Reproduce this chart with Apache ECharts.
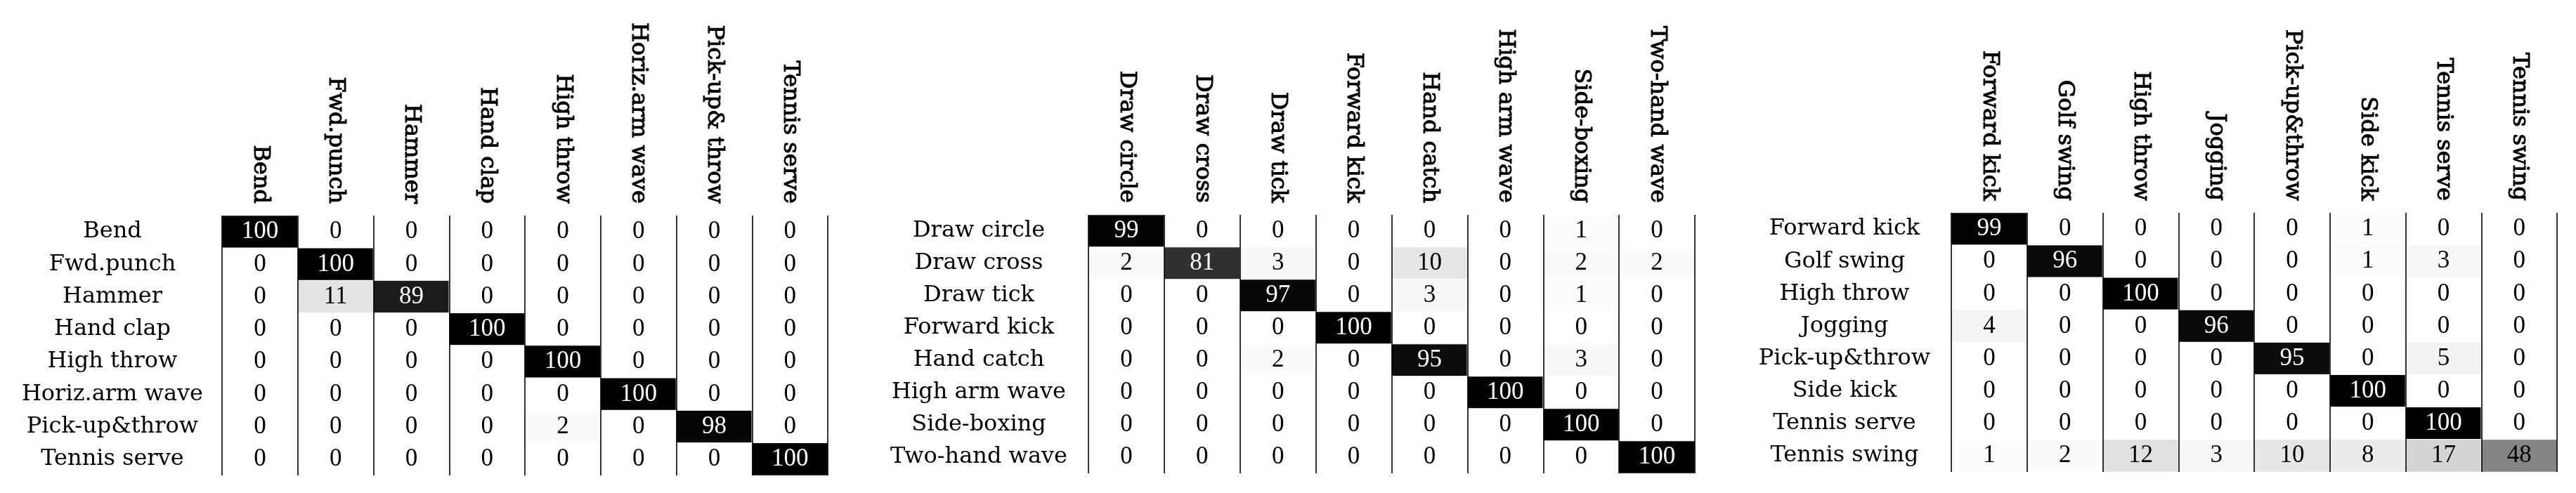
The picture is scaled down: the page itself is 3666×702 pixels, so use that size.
<!DOCTYPE html>
<html>
<head>
<meta charset="utf-8">
<script src="https://cdn.jsdelivr.net/npm/echarts@6/dist/echarts.min.js"></script>
<style>
  body { margin: 0; background: #fff; }
  #chart { width: 3666px; height: 702px; }
</style>
</head>
<body>
<div id="chart"></div>
<script>
// panel 1
var rows1 = ['Bend', 'Fwd.punch', 'Hammer', 'Hand clap', 'High throw', 'Horiz.arm wave', 'Pick-up&throw', 'Tennis serve'];
var cols1 = ['Bend', 'Fwd.punch', 'Hammer', 'Hand clap', 'High throw', 'Horiz.arm wave', 'Pick-up& throw', 'Tennis serve'];
var matrix1 = [
  [100, 0, 0, 0, 0, 0, 0, 0],
  [0, 100, 0, 0, 0, 0, 0, 0],
  [0, 11, 89, 0, 0, 0, 0, 0],
  [0, 0, 0, 100, 0, 0, 0, 0],
  [0, 0, 0, 0, 100, 0, 0, 0],
  [0, 0, 0, 0, 0, 100, 0, 0],
  [0, 0, 0, 0, 2, 0, 98, 0],
  [0, 0, 0, 0, 0, 0, 0, 100]
];

// panel 2
var rows2 = ['Draw circle', 'Draw cross', 'Draw tick', 'Forward kick', 'Hand catch', 'High arm wave', 'Side-boxing', 'Two-hand wave'];
var cols2 = ['Draw circle', 'Draw cross', 'Draw tick', 'Forward kick', 'Hand catch', 'High arm wave', 'Side-boxing', 'Two-hand wave'];
var matrix2 = [
  [99, 0, 0, 0, 0, 0, 1, 0],
  [2, 81, 3, 0, 10, 0, 2, 2],
  [0, 0, 97, 0, 3, 0, 1, 0],
  [0, 0, 0, 100, 0, 0, 0, 0],
  [0, 0, 2, 0, 95, 0, 3, 0],
  [0, 0, 0, 0, 0, 100, 0, 0],
  [0, 0, 0, 0, 0, 0, 100, 0],
  [0, 0, 0, 0, 0, 0, 0, 100]
];

// panel 3
var rows3 = ['Forward kick', 'Golf swing', 'High throw', 'Jogging', 'Pick-up&throw', 'Side kick', 'Tennis serve', 'Tennis swing'];
var cols3 = ['Forward kick', 'Golf swing', 'High throw', 'Jogging', 'Pick-up&throw', 'Side kick', 'Tennis serve', 'Tennis swing'];
var matrix3 = [
  [99, 0, 0, 0, 0, 1, 0, 0],
  [0, 96, 0, 0, 0, 1, 3, 0],
  [0, 0, 100, 0, 0, 0, 0, 0],
  [4, 0, 0, 96, 0, 0, 0, 0],
  [0, 0, 0, 0, 95, 0, 5, 0],
  [0, 0, 0, 0, 0, 100, 0, 0],
  [0, 0, 0, 0, 0, 0, 100, 0],
  [1, 2, 12, 3, 10, 8, 17, 48]
];

var panels = [
  { rows: rows1, cols: cols1, m: matrix1, left: 316, top: 307, width: 862, height: 370, margin: 156 },
  { rows: rows2, cols: cols2, m: matrix2, left: 1549, top: 306, width: 863, height: 368, margin: 156 },
  { rows: rows3, cols: cols3, m: matrix3, left: 2777, top: 303, width: 862, height: 369, margin: 152 }
];

var labelFont = 'DejaVu Serif';
var numFont = 'Liberation Serif';

var grids = [], xAxes = [], yAxes = [], series = [];
panels.forEach(function (p, k) {
  grids.push({ left: p.left, top: p.top, width: p.width, height: p.height });
  xAxes.push({
    type: 'category', gridIndex: k, position: 'top', data: p.cols, z: 5,
    axisLine: { show: false }, axisTick: { show: false },
    splitLine: { show: true, interval: 0, lineStyle: { color: '#000', width: 1.6 } },
    axisLabel: {
      interval: 0, rotate: 90, margin: 17,
      fontFamily: labelFont, fontSize: 32, color: '#000',
      // column headers look heavier than the row names
      textBorderColor: '#000', textBorderWidth: 1
    }
  });
  yAxes.push({
    type: 'category', gridIndex: k, inverse: true, data: p.rows,
    axisLine: { show: false }, axisTick: { show: false }, splitLine: { show: false },
    axisLabel: {
      interval: 0, align: 'center', margin: p.margin,
      fontFamily: labelFont, fontSize: 32, color: '#000'
    }
  });
  var data = [];
  p.m.forEach(function (row, i) {
    row.forEach(function (v, j) {
      data.push({ value: [j, i, v], label: { color: v > 50 ? '#fff' : '#000' } });
    });
  });
  series.push({
    type: 'heatmap', xAxisIndex: k, yAxisIndex: k, data: data,
    itemStyle: { borderColor: '#fff', borderWidth: 1 },
    label: {
      show: true, fontFamily: numFont, fontSize: 35,
      formatter: function (d) { return d.value[2]; }
    },
    emphasis: { disabled: true }
  });
});

var myChart = echarts.init(document.getElementById('chart'));
var option = {
  animation: false,
  backgroundColor: '#fff',
  grid: grids,
  xAxis: xAxes,
  yAxis: yAxes,
  visualMap: {
    show: false, type: 'continuous', min: 0, max: 100,
    seriesIndex: [0, 1, 2], dimension: 2,
    inRange: { color: ['#ffffff', '#000000'] }
  },
  series: series
};
option && myChart.setOption(option);
</script>
</body>
</html>
